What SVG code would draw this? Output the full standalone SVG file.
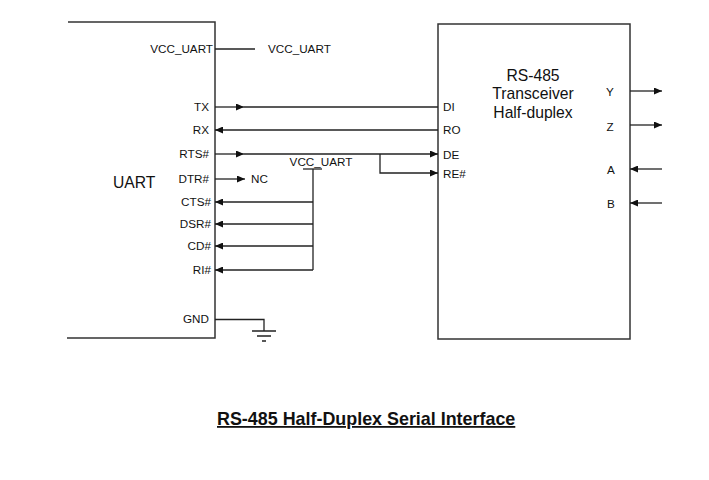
<svg xmlns="http://www.w3.org/2000/svg" width="709" height="480" viewBox="0 0 709 480">
<style>
.ln{fill:none;stroke:#222;stroke-width:1.3}
.bx{fill:none;stroke:#333;stroke-width:1.5}
.t{font-family:"Liberation Sans",Arial,sans-serif;font-size:11.7px;fill:#111}
.r{text-anchor:end}
.big{font-family:"Liberation Sans",Arial,sans-serif;font-size:15.7px;fill:#111}
.ar{marker-end:url(#ah)}
</style>
<defs>
<marker id="ah" markerUnits="userSpaceOnUse" markerWidth="9" markerHeight="7" refX="8" refY="3.5" orient="auto">
<path d="M0,0 L8,3.5 L0,7 z" fill="#111"/>
</marker>
</defs>
<rect width="709" height="480" fill="#fff"/>
<g id="uart">
<path class="bx" d="M68,22 H215 V338 H67"/>
<text class="big" x="113" y="188">UART</text>
<text class="t r" x="213" y="53">VCC_UART</text>
<text class="t r" x="209" y="111">TX</text>
<text class="t r" x="209" y="134">RX</text>
<text class="t r" x="209" y="158">RTS#</text>
<text class="t r" x="209" y="183">DTR#</text>
<text class="t r" x="211" y="206">CTS#</text>
<text class="t r" x="211" y="228">DSR#</text>
<text class="t r" x="211" y="250">CD#</text>
<text class="t r" x="211" y="274">RI#</text>
<text class="t r" x="209" y="323">GND</text>
</g>
<g id="transceiver">
<rect class="bx" x="438" y="24" width="192" height="315"/>
<text class="big" x="533" y="80.5" text-anchor="middle">RS-485</text>
<text class="big" x="533" y="98.5" text-anchor="middle">Transceiver</text>
<text class="big" x="533" y="117.5" text-anchor="middle">Half-duplex</text>
<text class="t" x="443" y="111">DI</text>
<text class="t" x="443" y="134">RO</text>
<text class="t" x="443" y="159">DE</text>
<text class="t" x="443" y="178">RE#</text>
<text class="t" x="610" y="96" text-anchor="middle">Y</text>
<text class="t" x="610" y="131" text-anchor="middle">Z</text>
<text class="t" x="611" y="174" text-anchor="middle">A</text>
<text class="t" x="611" y="208" text-anchor="middle">B</text>
</g>
<g id="vcc-label">
<text class="t" x="268" y="53">VCC_UART</text>
</g>
<g id="vcc-pullup">
<text class="t" x="321" y="166" text-anchor="middle">VCC_UART</text>
</g>
<g id="nc">
<text class="t" x="251" y="183">NC</text>
</g>
<g id="ground">
<path class="ln" d="M252,331 H276 M257,336 H271 M262,341 H266"/>
</g>
<g id="connectors">
<path class="ln" d="M215,49 H255"/>
<path class="ln ar" d="M215,107 H244"/>
<path class="ln" d="M244,107 H438"/>
<path class="ln ar" d="M438,130 H215"/>
<path class="ln ar" d="M215,154 H244"/>
<path class="ln ar" d="M244,154 H438"/>
<path class="ln ar" d="M380,154 V173 H438"/>
<path class="ln ar" d="M215,179 H245"/>
<path class="ln" d="M303,169 H322"/>
<path class="ln" d="M313,169 V270"/>
<path class="ln ar" d="M313,202 H215"/>
<path class="ln ar" d="M313,224 H215"/>
<path class="ln ar" d="M313,246 H215"/>
<path class="ln ar" d="M313,270 H215"/>
<path class="ln" d="M215,319.5 H264 V331"/>
<path class="ln ar" d="M630,91 H662"/>
<path class="ln ar" d="M630,125 H662"/>
<path class="ln ar" d="M662,169 H630"/>
<path class="ln ar" d="M662,203 H630"/>
</g>
<g id="caption">
<text x="217" y="425" font-family="'Liberation Sans',Arial,sans-serif" font-size="17.9px" font-weight="bold" fill="#111" text-decoration="underline">RS-485 Half-Duplex Serial Interface</text>
</g>
</svg>
